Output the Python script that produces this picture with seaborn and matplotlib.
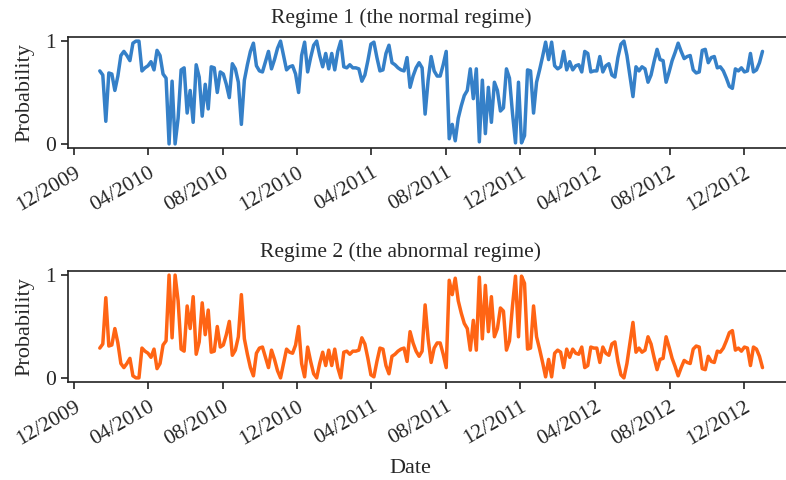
import numpy as np
import pandas as pd
import matplotlib
matplotlib.use("Agg")
import matplotlib.pyplot as plt
import matplotlib.dates as mdates
import seaborn as sns

# Smoothed regime probabilities, Jan 2010 - Dec 2012
regime1 = [
    0.71, 0.67, 0.22, 0.69, 0.68, 0.52, 0.66, 0.86, 0.90, 0.86,
    0.81, 0.98, 1.00, 1.00, 0.71, 0.74, 0.76, 0.80, 0.72, 0.91,
    0.86, 0.68, 0.64, 0.00, 0.61, 0.00, 0.25, 0.72, 0.74, 0.30,
    0.52, 0.21, 0.77, 0.65, 0.27, 0.58, 0.34, 0.75, 0.74, 0.50,
    0.70, 0.68, 0.58, 0.45, 0.78, 0.73, 0.60, 0.19, 0.62, 0.77,
    0.90, 0.98, 0.76, 0.71, 0.70, 0.80, 0.90, 0.73, 0.82, 0.93,
    1.00, 0.86, 0.72, 0.75, 0.76, 0.68, 0.50, 0.86, 0.99, 0.70,
    0.84, 0.96, 1.00, 0.86, 0.75, 0.88, 0.73, 0.88, 0.72, 0.90,
    1.00, 0.75, 0.74, 0.77, 0.74, 0.74, 0.73, 0.61, 0.67, 0.81,
    0.97, 0.99, 0.84, 0.71, 0.72, 0.88, 0.96, 0.79, 0.77, 0.74,
    0.72, 0.71, 0.84, 0.55, 0.66, 0.74, 0.79, 0.74, 0.29, 0.62,
    0.85, 0.71, 0.66, 0.66, 0.77, 0.90, 0.05, 0.19, 0.03, 0.25,
    0.37, 0.47, 0.52, 0.73, 0.44, 0.73, 0.02, 0.62, 0.10, 0.55,
    0.21, 0.60, 0.52, 0.32, 0.35, 0.73, 0.64, 0.30, 0.01, 0.60,
    0.01, 0.08, 0.72, 0.71, 0.30, 0.60, 0.72, 0.85, 0.99, 0.82,
    0.99, 0.76, 0.73, 0.75, 0.90, 0.72, 0.80, 0.72, 0.76, 0.77,
    0.70, 0.90, 0.88, 0.70, 0.71, 0.71, 0.85, 0.70, 0.76, 0.78,
    0.67, 0.65, 0.84, 0.97, 1.00, 0.86, 0.66, 0.46, 0.75, 0.71,
    0.75, 0.73, 0.60, 0.67, 0.80, 0.92, 0.82, 0.81, 0.60, 0.70,
    0.81, 0.89, 0.98, 0.90, 0.83, 0.85, 0.86, 0.72, 0.69, 0.70,
    0.91, 0.92, 0.79, 0.84, 0.85, 0.74, 0.75, 0.71, 0.64, 0.56,
    0.54, 0.73, 0.71, 0.74, 0.70, 0.71, 0.88, 0.70, 0.72, 0.79, 0.90,
]

regime2 = [
    0.29, 0.33, 0.78, 0.31, 0.32, 0.48, 0.34, 0.14, 0.10, 0.14,
    0.19, 0.02, 0.00, 0.00, 0.29, 0.26, 0.24, 0.20, 0.28, 0.09,
    0.14, 0.32, 0.36, 1.00, 0.39, 1.00, 0.75, 0.28, 0.26, 0.70,
    0.48, 0.79, 0.23, 0.35, 0.73, 0.42, 0.66, 0.25, 0.26, 0.50,
    0.30, 0.32, 0.42, 0.55, 0.22, 0.27, 0.40, 0.81, 0.38, 0.23,
    0.10, 0.02, 0.24, 0.29, 0.30, 0.20, 0.10, 0.27, 0.18, 0.07,
    0.00, 0.14, 0.28, 0.25, 0.24, 0.32, 0.50, 0.14, 0.01, 0.30,
    0.16, 0.04, 0.00, 0.14, 0.25, 0.12, 0.27, 0.12, 0.28, 0.10,
    0.00, 0.25, 0.26, 0.23, 0.26, 0.26, 0.27, 0.39, 0.33, 0.19,
    0.03, 0.01, 0.16, 0.29, 0.28, 0.12, 0.04, 0.21, 0.23, 0.26,
    0.28, 0.29, 0.16, 0.45, 0.34, 0.26, 0.21, 0.26, 0.71, 0.38,
    0.15, 0.29, 0.34, 0.34, 0.23, 0.10, 0.95, 0.81, 0.97, 0.75,
    0.63, 0.53, 0.48, 0.27, 0.56, 0.27, 0.98, 0.38, 0.90, 0.45,
    0.79, 0.40, 0.48, 0.68, 0.65, 0.27, 0.36, 0.70, 0.99, 0.40,
    0.99, 0.92, 0.28, 0.29, 0.70, 0.40, 0.28, 0.15, 0.01, 0.18,
    0.01, 0.24, 0.27, 0.25, 0.10, 0.28, 0.20, 0.28, 0.24, 0.23,
    0.30, 0.10, 0.12, 0.30, 0.29, 0.29, 0.15, 0.30, 0.24, 0.22,
    0.33, 0.35, 0.16, 0.03, 0.00, 0.14, 0.34, 0.54, 0.25, 0.29,
    0.25, 0.27, 0.40, 0.33, 0.20, 0.08, 0.18, 0.19, 0.40, 0.30,
    0.19, 0.11, 0.02, 0.10, 0.17, 0.15, 0.14, 0.28, 0.31, 0.30,
    0.09, 0.08, 0.21, 0.16, 0.15, 0.26, 0.25, 0.29, 0.36, 0.44,
    0.46, 0.27, 0.29, 0.26, 0.30, 0.29, 0.12, 0.30, 0.28, 0.21, 0.10,
]

start_date = "2010-01-12"
end_date = "2012-12-31"
titles = ["Regime 1 (the normal regime)", "Regime 2 (the abnormal regime)"]
colors = ["#3580c8", "#ff6414"]
tick_dates = pd.date_range("2009-12-01", "2012-12-01", freq="4MS")

dates = pd.date_range(start_date, end_date, periods=len(regime1))
df = pd.DataFrame({"Date": dates, "Regime 1": regime1, "Regime 2": regime2})

sns.set_style("ticks")
plt.rcParams["font.family"] = ["Liberation Serif", "DejaVu Serif"]

fig = plt.figure(figsize=(7.86, 4.8), dpi=100)
W, H = 786, 480
ax_boxes = [(68, 37, 790, 148), (68, 271, 790, 382)]

for k, (col, title, color) in enumerate(zip(["Regime 1", "Regime 2"], titles, colors)):
    x0, y0, x1, y1 = ax_boxes[k]
    ax = fig.add_axes([x0 / W, 1 - y1 / H, (x1 - x0) / W, (y1 - y0) / H])
    sns.lineplot(data=df, x="Date", y=col, ax=ax, color=color, linewidth=2.5)
    ax.set_xlim(pd.Timestamp("2009-11-21"), pd.Timestamp("2013-02-14"))
    ax.set_ylim(-0.04, 1.04)
    ax.set_yticks([0, 1])
    ax.set_yticklabels(["0", "1"])
    ax.set_xticks(tick_dates)
    ax.xaxis.set_major_formatter(mdates.DateFormatter("%m/%Y"))
    for lab in ax.get_xticklabels():
        lab.set_rotation(30)
        lab.set_ha("right")
        lab.set_rotation_mode("anchor")
    ax.tick_params(axis="both", labelsize=15.5, length=5, width=1.2, color="#222222")
    ax.tick_params(axis="x", pad=6)
    ax.set_ylabel("Probability", fontsize=16, labelpad=8)
    if k == 1:
        ax.set_xlabel("Date", fontsize=16)
        ax.xaxis.set_label_coords(0.474, -0.69)
    else:
        ax.set_xlabel("")
    ax.set_title(title, fontsize=15.5, x=0.461, pad=10)
    for s in ["left", "top", "bottom"]:
        ax.spines[s].set_color("#222222")
        ax.spines[s].set_linewidth(1.2)
    ax.spines["right"].set_visible(False)

fig.savefig("out.png", dpi=100)
